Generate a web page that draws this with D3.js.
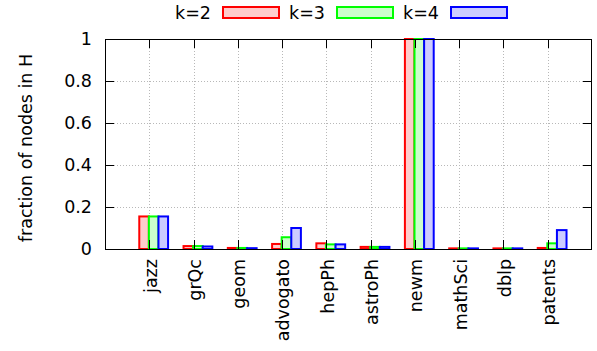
<!DOCTYPE html>
<html>
<head>
<meta charset="utf-8">
<script src="https://cdn.jsdelivr.net/npm/d3@7"></script>
<style>
  html, body { margin: 0; padding: 0; background: #fff; }
  svg { display: block; font-family: "DejaVu Sans", Verdana, sans-serif; }
</style>
</head>
<body>
<svg id="chart" width="597" height="351"></svg>
<script>
const categories = ["jazz", "grQc", "geom", "advogato", "hepPh", "astroPh", "newm", "mathSci", "dblp", "patents"];
const seriesNames = ["k=2", "k=3", "k=4"];
const k2 = [0.155, 0.014, 0.005, 0.024, 0.027, 0.010, 1.0, 0.003, 0.003, 0.005];
const k3 = [0.155, 0.014, 0.005, 0.056, 0.022, 0.010, 1.0, 0.003, 0.003, 0.027];
const k4 = [0.155, 0.012, 0.004, 0.100, 0.022, 0.010, 1.0, 0.003, 0.003, 0.090];
const yTicks = [0, 0.2, 0.4, 0.6, 0.8, 1];
const yTickLabels = ["0", "0.2", "0.4", "0.6", "0.8", "1"];
const strokeColors = ["#ff0000", "#00ff00", "#0000ff"];
const fillColors = ["#ffcccc", "#ccffcc", "#ccccff"];

(function () {
const series = [k2, k3, k4];
const svg = d3.select("#chart");
const pL = 105, pR = 592, pT = 39, pB = 249;
const fs = 17.5;

const x = d3.scaleLinear().domain([-1, categories.length]).range([pL, pR]);
const y = d3.scaleLinear().domain([0, 1]).range([pB, pT]);

// grid
const grid = svg.append("g").attr("stroke", "#b8b8b8").attr("stroke-width", 1).attr("stroke-dasharray", "1,2");
yTicks.filter(t => t > 0 && t < 1).forEach(t => {
  grid.append("line").attr("x1", pL).attr("x2", pR).attr("y1", Math.round(y(t)) + 0.5).attr("y2", Math.round(y(t)) + 0.5);
});
categories.forEach((c, i) => {
  grid.append("line").attr("x1", Math.round(x(i)) + 0.5).attr("x2", Math.round(x(i)) + 0.5).attr("y1", pT).attr("y2", pB);
});

// bars
const unit = x(1) - x(0);
const barW = 9.6 / unit;
const start = -10 / unit;
series.forEach((vals, j) => {
  svg.append("g").selectAll("rect").data(vals).join("rect")
    .attr("x", (d, i) => x(i + start + j * barW))
    .attr("width", x(barW) - x(0))
    .attr("y", d => y(d))
    .attr("height", d => y(0) - y(d))
    .attr("fill", fillColors[j])
    .attr("stroke", strokeColors[j])
    .attr("stroke-width", 2);
});

// frame
svg.append("rect").attr("x", pL + 0.5).attr("y", pT + 0.5).attr("width", pR - pL - 1).attr("height", pB - pT)
  .attr("fill", "none").attr("stroke", "#000").attr("stroke-width", 1);

// ticks
const tk = svg.append("g").attr("stroke", "#000").attr("stroke-width", 1);
yTicks.forEach(t => {
  const yy = Math.round(y(t)) + 0.5;
  tk.append("line").attr("x1", pL).attr("x2", pL + 9).attr("y1", yy).attr("y2", yy);
  tk.append("line").attr("x1", pR - 9).attr("x2", pR).attr("y1", yy).attr("y2", yy);
});
categories.forEach((c, i) => {
  const xx = Math.round(x(i)) + 0.5;
  tk.append("line").attr("x1", xx).attr("x2", xx).attr("y1", pB).attr("y2", pB - 9);
  tk.append("line").attr("x1", xx).attr("x2", xx).attr("y1", pT).attr("y2", pT + 9);
});

// y labels
svg.append("g").selectAll("text").data(yTicks).join("text")
  .attr("x", 92).attr("y", d => y(d)).attr("dy", "0.35em")
  .attr("text-anchor", "end").attr("font-size", fs).attr("fill", "#000")
  .text((d, i) => yTickLabels[i]);

// x labels
svg.append("g").selectAll("text").data(categories).join("text")
  .attr("transform", (d, i) => `translate(${x(i)},259) rotate(-90)`)
  .attr("dy", "0.42em")
  .attr("text-anchor", "end").attr("font-size", fs).attr("fill", "#000")
  .text(d => d);

// y title
svg.append("text")
  .attr("transform", "translate(26,148) rotate(-90)")
  .attr("dy", "0.35em")
  .attr("text-anchor", "middle").attr("font-size", fs).attr("fill", "#000")
  .text("fraction of nodes in H");

// legend
const legX = [175, 289, 403];
seriesNames.forEach((n, j) => {
  svg.append("text").attr("x", legX[j]).attr("y", 13).attr("dy", "0.35em")
    .attr("font-size", fs).attr("fill", "#000").text(n);
  svg.append("rect").attr("x", legX[j] + 48).attr("y", 7).attr("width", 56).attr("height", 11)
    .attr("fill", fillColors[j]).attr("stroke", strokeColors[j]).attr("stroke-width", 2);
});
})();
</script>
</body>
</html>
